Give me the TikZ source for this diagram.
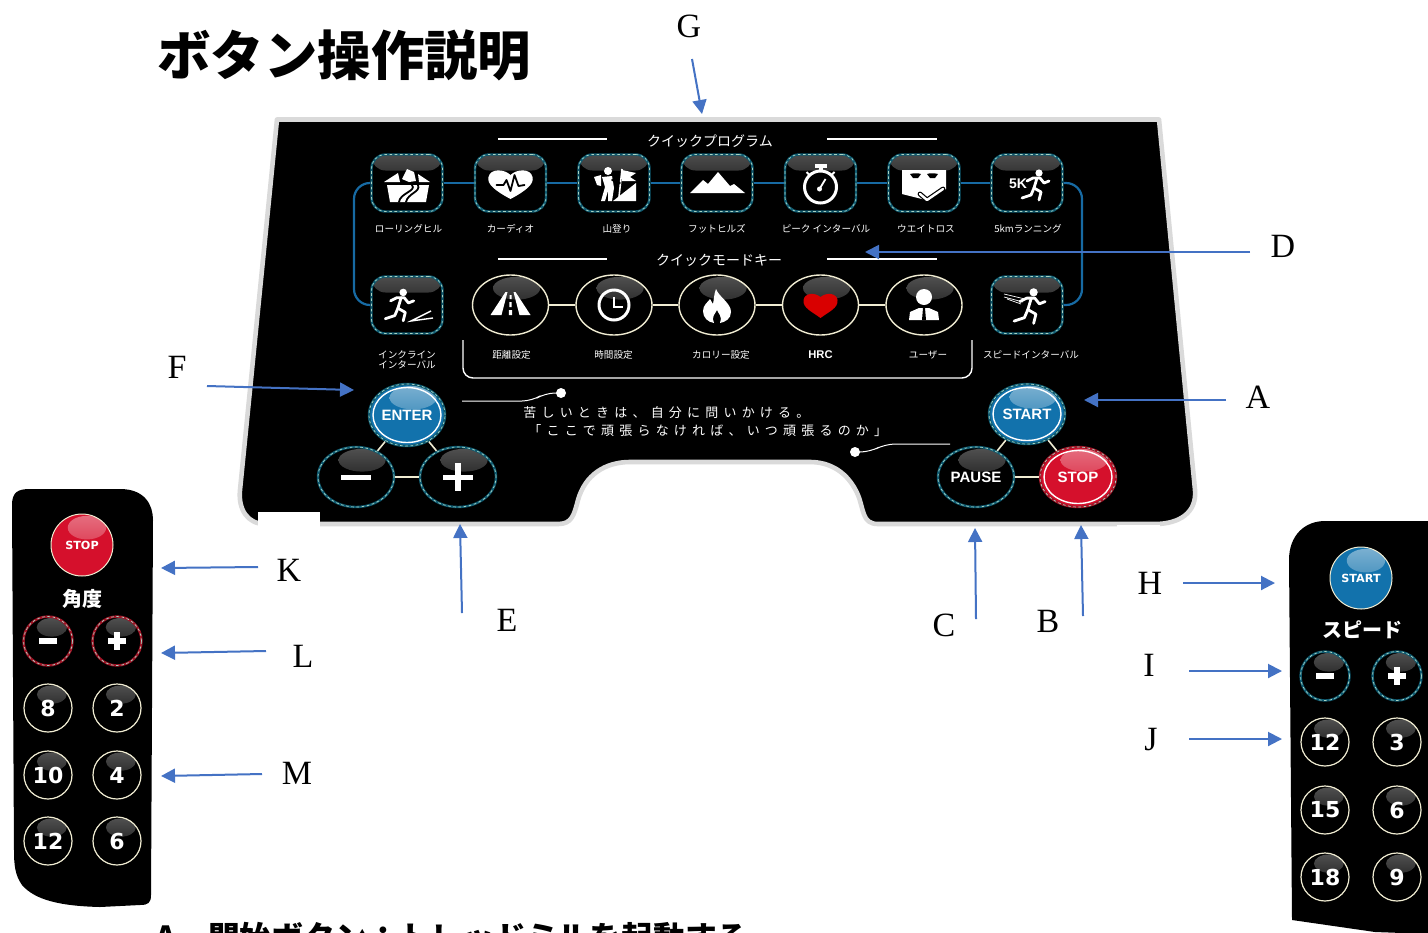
\documentclass[tikz,border=0pt]{standalone}
\usepackage{fontspec}
\setmainfont{Liberation Serif}
\newfontfamily\jp{Noto Sans CJK JP}
\newfontfamily\jpspaced[LetterSpace=40]{Noto Sans CJK JP}
\newfontfamily\arial{Liberation Sans}
\newfontfamily\numf{DejaVu Sans}
\usetikzlibrary{arrows.meta,shapes.geometric}
\definecolor{arrowblue}{HTML}{4472C4}
\definecolor{wireblue}{HTML}{176AA3}
\definecolor{pale}{HTML}{F0ECD2}
\definecolor{ringteal}{HTML}{0F5A70}
\definecolor{dashpale}{HTML}{A8D4C4}
\definecolor{btnblue}{HTML}{1272AC}
\definecolor{btnred}{HTML}{D5102C}
\definecolor{ringred}{HTML}{A01426}
\definecolor{panelgray}{HTML}{DADADA}
\newcommand\fs[1]{\fontsize{#1}{#1}\selectfont}
\def\gtop{black!68}\def\gbot{black}
\tikzset{
  x=0.5pt,y=-0.5pt,
  glosstop/.code={\def\gtop{#1}},
  glossbot/.code={\def\gbot{#1}},
  callout/.style={draw=arrowblue,line width=1pt,-{Triangle[length=7pt,width=7pt]}},
  letter/.style={font=\fs{17},inner sep=0pt,text=black},
  wireb/.style={draw=wireblue,line width=1.1pt},
  wirep/.style={draw=pale,line width=.8pt},
  small/.style={font=\jp\fs{4.8},text=white,inner sep=0pt,align=center},
  header/.style={font=\jp\fs{7},text=white,inner sep=0pt},
  btnbase/.style={shape=ellipse,inner sep=0pt,text=white,font=\arial\bfseries\fs{7.5},fill=black,draw=pale,line width=.5pt},
  dashring/.style={draw=#1,line width=1.2pt,postaction={draw=dashpale,line width=.35pt,dash pattern=on 1.3pt off 1.3pt}},
  blueb/.style={fill=btnblue,glosstop=white!45!btnblue,glossbot=btnblue},
  redb/.style={fill=btnred,glosstop=white!40!btnred,glossbot=btnred},
  sq/.style={shape=rectangle,rounded corners=7pt,minimum width=35.5pt,minimum height=28.5pt,fill=black,dashring=ringteal,
    path picture={\fill[top color=black!70,bottom color=black] (path picture bounding box.north west) rectangle ([yshift=-8pt]path picture bounding box.north east);}},
  num/.style={font=\numf\bfseries\fs{11},line width=.6pt},
  remotelabel/.style={font=\numf\bfseries\fs{5.6}},
  ico/.style={draw=white,line width=1.4pt,line cap=round,line join=round},
  bline/.style={draw=black,line width=.9pt,line cap=round,line join=round},
}
\newcommand\btn[7]{\node[btnbase,#6,minimum width=#4pt,minimum height=#5pt,
  path picture={\fill[top color=\gtop,bottom color=\gbot] (path picture bounding box.center) ++(.16*#4,-.56*#5) ellipse [x radius=.62*#4,y radius=.38*#5];}] (#1) at (#2,#3) {#7};}
\newcommand\minussign[1]{\fill[white] (#1.center) ++(-9,-3) rectangle ++(18,6);}
\newcommand\plussign[1]{\fill[white] (#1.center) ++(-9,-3) rectangle ++(18,6);\fill[white] (#1.center) ++(-3,-9) rectangle ++(6,18);}
\newcommand\runner{%
  \fill[white] (4,-11) circle [radius=3.6];
  \draw[ico] (-8,-3)--(-2,-6)--(5,-6)--(9,-1)--(14,-3);
  \draw[ico] (2,-6)--(-1,4);
  \draw[ico] (-1,4)--(6,8)--(4,16);
  \draw[ico] (-1,4)--(-4,11)--(-13,14);}
\begin{document}
\begin{tikzpicture}
\useasboundingbox (0,0) rectangle (1428,932);
\fill[white] (0,0) rectangle (1428,932);
% panel
\path[fill=black,draw=panelgray,line width=2.3pt,line join=round]
 (277,119.5) -- (1159,119.5) -- (1195,490) .. controls (1197,512) and (1180,524) .. (1155,524)
 -- (878,524) .. controls (862,524) and (864,510) .. (858,495) .. controls (848,472) and (830,462) .. (810,462)
 -- (630,462) .. controls (605,462) and (585,475) .. (578,500) .. controls (574,515) and (572,524) .. (558,524)
 -- (265,524) .. controls (248,524) and (238,510) .. (240,490) -- cycle;
\fill[white] (258,512) rectangle (320,524);
\fill[white] (258,524) rectangle (320,530);
\fill[white] (1117,525) rectangle (1160,530);
% title
\node[font=\jp\bfseries\fs{26.7},inner sep=0pt,anchor=west,text=black] (title) at (157,55) {ボタン操作説明};
\node[font=\jp\bfseries\fs{15.9},inner sep=0pt,anchor=base west,text=black] (cut) at (155,949) {A．開始ボタン：トレッドミルを起動する};
% headers
\node[header] (h1) at (710,141) {クイックプログラム};
\node[header] (h2) at (719,260) {クイックモードキー};
\draw[white,line width=.7pt] (498,139) -- (607,139) (827,139) -- (937,139) (498,259) -- (607,259) (827,259) -- (937,259);
% square buttons
\node[sq] (s1) at (407,183) {};
\node[sq] (s2) at (510.5,183) {};
\node[sq] (s3) at (614,183) {};
\node[sq] (s4) at (717,183) {};
\node[sq] (s5) at (820.5,183) {};
\node[sq] (s6) at (924,183) {};
\node[sq] (s7) at (1027,183) {};
\node[sq] (i1) at (407,305) {};
\node[sq] (i2) at (1027,305) {};
\draw[wireb] (s1)--(s2) (s2)--(s3) (s3)--(s4) (s4)--(s5) (s5)--(s6) (s6)--(s7);
\coordinate (lw) at (354,245);
\coordinate (rw) at (1082,245);
\draw[wireb,rounded corners=8pt] (s1.west) -| (lw) |- (i1.west);
\draw[wireb,rounded corners=8pt] (s7.east) -| (rw) |- (i2.east);
% round row
\btn{m1}{510.5}{305}{38}{30}{line width=.7pt}{}
\btn{m2}{614}{305}{38}{30}{line width=.7pt}{}
\btn{m3}{717}{305}{38}{30}{line width=.7pt}{}
\btn{m4}{820.5}{305}{38}{30}{line width=.7pt}{}
\btn{m5}{924}{305}{38}{30}{line width=.7pt}{}
\draw[wirep] (m1)--(m2) (m2)--(m3) (m3)--(m4) (m4)--(m5);
% bracket
\draw[white,line width=.7pt,rounded corners=5pt] (463,340) -- (463,378) -- (972,378) -- (972,340);
% small labels
\node[small] (t1) at (408.5,229) {ローリングヒル};
\node[small] (t2) at (510.5,229) {カーディオ};
\node[small] (t3) at (617,229) {山登り};
\node[small] (t4) at (717,229) {フットヒルズ};
\node[small] (t5) at (826,229) {ピーク インターバル};
\node[small] (t6) at (926,229) {ウエイトロス};
\node[small] (t7) at (1028,229) {5kmランニング};
\node[small,font=\jp\fontsize{4.8}{5}\selectfont] (t8) at (407,360) {インクライン\\インターバル};
\node[small] (t9) at (511.5,355) {距離設定};
\node[small] (t10) at (613.5,355) {時間設定};
\node[small] (t11) at (721,355) {カロリー設定};
\node[small,font=\arial\bfseries\fs{5.6}] (t12) at (820.5,355) {HRC};
\node[small] (t13) at (928,355) {ユーザー};
\node[small] (t14) at (1031,355) {スピードインターバル};
% icons row 1
\begin{scope}[shift={(s1.center)}]
 \fill[white] (-23,-1)--(-9,-10)--(-7,-1)--cycle;
 \fill[white] (-5,-4)--(-3,-8)--(0,-14)--(7,-11)--(9,-2)--(2,-1)--cycle;
 \fill[white] (11,-9)--(23,-1)--(12,-1)--cycle;
 \fill[white] (-20,2)--(22,2)--(19,19)--(-17,19)--cycle;
 \draw[bline] (5,2) .. controls (10,8) and (-7,10) .. (-8,19);
 \draw[bline] (11,2) .. controls (14,9) and (1,10) .. (-1,19);
\end{scope}
\begin{scope}[shift={(s2.center)}]
 \fill[white] (0,16) .. controls (-15,8) and (-24,1) .. (-22,-6) .. controls (-20,-15) and (-6,-14) .. (0,-8) .. controls (6,-14) and (20,-15) .. (22,-6) .. controls (24,1) and (15,8) .. (0,16) -- cycle;
 \draw[bline] (-14,2)--(-7,2)--(-4,-3)--(0,8)--(4,-8)--(8,3)--(14,2);
\end{scope}
\begin{scope}[shift={(s3.center)}]
 \fill[white] (-1,18)--(22,0)--(22,18)--cycle;
 \fill[white] (8,-13)--(22,-10)--(16,-6)--(22,-2)--(8,-2)--cycle;
 \draw[white,line width=.8pt] (8,-14)--(5,14);
 \fill[white] (-6,-12) circle [radius=4];
 \fill[white] (-12,-6)--(-2,-7)--(0,5)--(-2,18)--(-6,18)--(-6,8)--(-9,18)--(-13,18)--(-9,4)--cycle;
 \fill[white] (-20,-6)--(-13,-8)--(-13,3)--(-17,2)--cycle;
 \draw[bline] (-2,-3)--(6,0);
\end{scope}
\begin{scope}[shift={(s4.center)}]
 \fill[white] (-27,10)--(-14,-3)--(-9,1)--(1,-11)--(13,3)--(17,1)--(28,10)--cycle;
\end{scope}
\begin{scope}[shift={(s5.center)}]
 \draw[white,line width=1.5pt] (0,4) circle [radius=16];
 \fill[white] (-6,-19) rectangle (6,-15);
 \fill[white] (-2,-15) rectangle (2,-11);
 \draw[white,line width=1pt] (-14,-11)--(-11,-8) (14,-11)--(11,-8);
 \draw[white,line width=.9pt] (-1,6)--(5,-4);
 \fill[white] (-1,6) circle [radius=2.5];
\end{scope}
\begin{scope}[shift={(s6.center)}]
 \fill[white] (-22,-13)--(22,-13)--(22,6)--(2,17)--(-22,11)--cycle;
 \fill[black] (-14,-9) .. controls (-10,-10) and (-6,-10) .. (-3,-9) -- (-6,-5) -- (-11,-5) -- cycle;
 \fill[black] (14,-9) .. controls (10,-10) and (6,-10) .. (3,-9) -- (6,-5) -- (11,-5) -- cycle;
 \draw[black,line width=2.4pt,line cap=round,line join=round] (-4,11)--(3,17)--(19,6);
 \draw[white,line width=1.2pt,line cap=round,line join=round] (-4,11)--(3,17)--(19,6);
\end{scope}
\begin{scope}[shift={(s7.center)}]
 \node[font=\arial\bfseries\fs{7},text=white,inner sep=0pt] (five) at (-9,1) {5K};
 \begin{scope}[shift={(8,1)}]\runner\end{scope}
\end{scope}
% icons row 2
\begin{scope}[shift={(i1.center)}]
 \begin{scope}[shift={(-8,-1)},scale=1.05]\runner\end{scope}
 \draw[white,line width=.7pt] (24,6)--(4,16)--(26,13);
\end{scope}
\begin{scope}[shift={(m1.center)}]
 \fill[white] (-20,10)--(-5,-13)--(-3,-13)--(-9,10)--cycle;
 \fill[white] (20,10)--(5,-13)--(3,-13)--(9,10)--cycle;
 \fill[white] (-1,-10) rectangle (1,-6) (-1.2,-3) rectangle (1.2,2) (-1.6,5) rectangle (1.6,10);
\end{scope}
\begin{scope}[shift={(m2.center)}]
 \draw[white,line width=1.5pt] (0,0) circle [radius=15];
 \draw[white,line width=1.1pt] (0,-8)--(0,2)--(9,2);
\end{scope}
\begin{scope}[shift={(m3.center)}]
 \fill[white] (-1,-16) .. controls (2,-8) and (14,-2) .. (14,7) .. controls (14,14) and (8,17) .. (3,18) .. controls (6,12) and (1,8) .. (0,5) .. controls (-2,9) and (-6,12) .. (-3,18) .. controls (-9,17) and (-14,13) .. (-14,6) .. controls (-14,0) and (-9,-3) .. (-7,-6) .. controls (-5,-3) and (-5,-2) .. (-4,-1) .. controls (-3,-6) and (-3,-11) .. (-1,-16) -- cycle;
\end{scope}
\begin{scope}[shift={(m4.center)}]
 \fill[red!85!black] (0,13) .. controls (-8,7) and (-18,3) .. (-17,-5) .. controls (-16,-12) and (-6,-13) .. (0,-8) .. controls (6,-13) and (16,-12) .. (17,-5) .. controls (18,3) and (8,7) .. (0,13) -- cycle;
\end{scope}
\begin{scope}[shift={(m5.center)}]
 \fill[white] (0,-8) circle [radius=8];
 \fill[white] (-15,15)--(-14,7)--(-5,3)--(5,3)--(14,7)--(15,15)--cycle;
 \fill[black] (-1,3)--(1,3)--(2,15)--(-2,15)--cycle;
\end{scope}
\begin{scope}[shift={(i2.center)}]
 \begin{scope}[shift={(2,0)},scale=1.15]\runner\end{scope}
 \draw[white,line width=.35pt] (-23,-11)--(-2,-6) (-23,-8)--(-4,-3) (-20,-6)--(-6,-1);
\end{scope}
% slogan
\draw[white,line width=.5pt,rounded corners=5pt] (462,401) -- (532,401) -- (545,393) -- (561,393);
\fill[white] (561,393) circle [radius=5];
\draw[white,line width=.5pt,rounded corners=5pt] (950,444) -- (885,444) -- (870,452) -- (855,452);
\fill[white] (855,452) circle [radius=5];
\node[font=\jpspaced\fs{6.5},text=white,inner sep=0pt,anchor=west] (q1) at (523,413) {苦しいときは、自分に問いかける。};
\node[font=\jpspaced\fs{6.5},text=white,inner sep=0pt,anchor=west] (q2) at (528,431) {「ここで頑張らなければ、いつ頑張るのか」};
% enter group
\btn{enter}{407}{415}{38}{31}{blueb,dashring=ringteal}{ENTER}
\btn{minus}{356}{477}{38}{30}{dashring=ringteal}{}
\btn{plus}{458}{477}{38}{30}{dashring=ringteal}{}
\draw[white,line width=.7pt] (407,415) ellipse [x radius=34,y radius=27.5];
\draw[wirep] (enter)--(minus) (enter)--(plus) (minus)--(plus);
\fill[white] (341,474.5) rectangle (371,480);
\fill[white] (443,474.5) rectangle (473,480);
\fill[white] (455.2,463) rectangle (460.8,491);
% start group
\btn{start}{1027}{414}{38}{30}{blueb,dashring=ringteal}{START}
\btn{pause}{976}{477}{38}{30}{dashring=ringteal}{PAUSE}
\btn{stop}{1078}{477}{38}{30}{redb,dashring=ringred}{STOP}
\draw[white,line width=.7pt] (1027,414) ellipse [x radius=34,y radius=26.5];
\draw[white,line width=.7pt] (1078,477) ellipse [x radius=34,y radius=26.5];
\draw[wirep] (start)--(pause) (start)--(stop) (pause)--(stop);
% left remote
\path[fill=black] (12,505) .. controls (12,492) and (18,489) .. (30,489) -- (120,489) .. controls (145,489) and (153,505) .. (153,520) -- (151,895) .. controls (151,903) and (148,905) .. (140,905) -- (100,907) .. controls (60,906) and (35,900) .. (22,885) .. controls (15,875) and (14,865) .. (14,850) -- cycle;
\btn{lstop}{82}{545}{31}{31}{redb,remotelabel}{STOP}
\node[font=\jp\bfseries\fs{10},text=white,inner sep=0pt] (ang) at (82,599) {角度};
\btn{lm}{48}{641}{24.5}{24.5}{dashring=ringred}{}
\btn{lp}{117}{641}{24.5}{24.5}{dashring=ringred}{}
\minussign{lm}
\plussign{lp}
\btn{l8}{48}{708}{24}{24}{num}{8}
\btn{l2}{117}{708}{24}{24}{num}{2}
\btn{l10}{48}{775}{24}{24}{num}{10}
\btn{l4}{117}{775}{24}{24}{num}{4}
\btn{l12}{48}{841}{24}{24}{num}{12}
\btn{l6}{117}{841}{24}{24}{num}{6}
% right remote
\path[fill=black] (1289,560) .. controls (1289,535) and (1305,521) .. (1325,521) -- (1430,521) -- (1430,934) -- (1375,932) -- (1292,920) -- cycle;
\btn{rstart}{1361}{578}{31}{31}{blueb,remotelabel}{START}
\node[font=\jp\bfseries\fs{10},text=white,inner sep=0pt] (spd) at (1362,630) {スピード};
\btn{rm}{1325}{676}{24.5}{24.5}{dashring=ringteal}{}
\btn{rp}{1397}{676}{24.5}{24.5}{dashring=ringteal}{}
\minussign{rm}
\plussign{rp}
\btn{r12}{1325}{742}{24}{24}{num}{12}
\btn{r3}{1397}{742}{24}{24}{num}{3}
\btn{r15}{1325}{810}{24}{24}{num}{15}
\btn{r6}{1397}{810}{24}{24}{num}{6}
\btn{r18}{1325}{877}{24}{24}{num}{18}
\btn{r9}{1397}{877}{24}{24}{num}{9}
% letters
\node[letter] (G) at (689,26) {G};
\node[letter] (D) at (1283,246) {D};
\node[letter] (A) at (1258,397) {A};
\node[letter] (F) at (177,367) {F};
\node[letter] (E) at (507,620) {E};
\node[letter] (C) at (944,625) {C};
\node[letter] (B) at (1048,621) {B};
\node[letter] (K) at (289,570) {K};
\node[letter] (L) at (303,656) {L};
\node[letter] (M) at (297,773) {M};
\node[letter] (H) at (1150,583) {H};
\node[letter] (I) at (1149,665) {I};
\node[letter] (J) at (1151,740) {J};
% callouts
\coordinate (g1) at (692,59); \coordinate (g2) at (702,114);
\coordinate (d1) at (1250,252); \coordinate (d2) at (865,252);
\coordinate (a1) at (1226,400); \coordinate (a2) at (1084,400);
\coordinate (f1) at (207,386); \coordinate (f2) at (354,390);
\coordinate (e1) at (462,613); \coordinate (e2) at (460,524);
\coordinate (c1) at (976,619); \coordinate (c2) at (975,528);
\coordinate (b1) at (1083,616); \coordinate (b2) at (1081,525);
\coordinate (k1) at (258,567); \coordinate (k2) at (161,568);
\coordinate (l1) at (266,651); \coordinate (l2) at (161,653);
\coordinate (n1) at (262,774); \coordinate (n2) at (161,776);
\coordinate (h1c) at (1183,583); \coordinate (h2c) at (1275,583);
\coordinate (i1c) at (1189,671); \coordinate (i2c) at (1282,671);
\coordinate (j1) at (1189,739); \coordinate (j2) at (1282,739);
\draw[callout] (g1)--(g2);
\draw[callout] (d1)--(d2);
\draw[callout] (a1)--(a2);
\draw[callout] (f1)--(f2);
\draw[callout] (e1)--(e2);
\draw[callout] (c1)--(c2);
\draw[callout] (b1)--(b2);
\draw[callout] (k1)--(k2);
\draw[callout] (l1)--(l2);
\draw[callout] (n1)--(n2);
\draw[callout] (h1c)--(h2c);
\draw[callout] (i1c)--(i2c);
\draw[callout] (j1)--(j2);
\end{tikzpicture}
\end{document}
